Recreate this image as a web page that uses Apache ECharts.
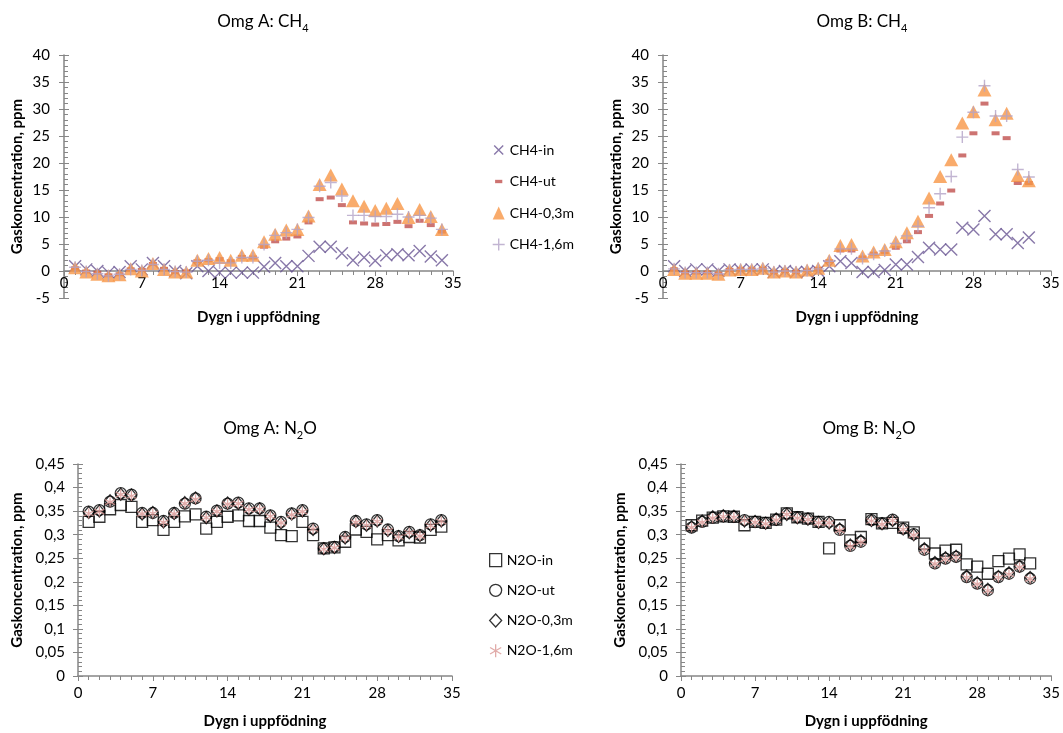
<!DOCTYPE html>
<html>
<head>
<meta charset="utf-8">
<script src="https://cdn.jsdelivr.net/npm/echarts@6/dist/echarts.min.js"></script>
<style>
html,body{margin:0;padding:0;background:#fff;}
#chart{width:1063px;height:733px;}
</style>
</head>
<body>
<div id="chart"></div>
<script>
// dygn
var daysA = [1,2,3,4,5,6,7,8,9,10,11,12,13,14,15,16,17,18,19,20,21,22,23,24,25,26,27,28,29,30,31,32,33,34];
var daysB = [1,2,3,4,5,6,7,8,9,10,11,12,13,14,15,16,17,18,19,20,21,22,23,24,25,26,27,28,29,30,31,32,33];

// Omg A: CH4
var ch4A_in  = [0.9,0.3,0,-0.3,-0.2,0.9,0.3,1.5,0.9,0,-0.4,0.9,0,-0.3,-0.3,-0.3,-0.3,0.8,1.5,0.9,0.9,2.8,4.5,4.5,3.3,2.0,2.5,1.9,2.9,3.1,2.9,3.7,2.7,2.0];
var ch4A_ut  = [0.5,-0.1,-0.3,-0.8,-0.6,0.3,0.2,1.3,0.4,-0.2,-0.1,1.8,2.0,2.2,1.8,2.6,2.5,4.5,5.5,6.0,6.4,9.0,13.3,13.6,12.2,9.0,8.8,8.6,8.7,9.1,8.3,9.3,8.5,7.3];
var ch4A_03  = [0.6,-0.2,-0.6,-0.9,-0.7,0.4,0,1.4,0.3,-0.2,-0.2,2.0,2.3,2.5,2.0,2.9,2.9,5.4,6.8,7.6,7.7,10.2,16.0,17.8,15.2,13.0,12.0,11.2,11.6,12.5,9.9,11.4,10.1,7.7];
var ch4A_16  = [0.7,-0.1,-0.5,-0.9,-0.6,0.3,0.1,1.2,0.3,-0.1,-0.2,1.8,2.0,1.5,1.5,2.5,2.5,4.9,6.6,7.1,7.7,9.9,15.7,16.4,13.9,10.3,10.3,10.1,10.1,10.5,10.0,10.3,9.8,7.7];

// Omg B: CH4
var ch4B_in  = [0.9,0,0.3,0.3,0,0.3,0.2,0.3,0.3,-0.2,0,-0.2,-0.2,0,0.9,1.8,1.5,-0.2,-0.2,0.2,1.2,1.2,2.6,4.3,4.0,4.0,8.0,7.7,10.2,6.8,6.8,5.2,6.2];
var ch4B_ut  = [0.3,-0.3,-0.3,-0.3,-0.5,0.2,0.3,0.3,0.4,-0.2,0,-0.2,0.1,0.4,1.8,3.8,3.8,2.5,3.2,3.5,4.3,5.5,7.2,10.2,12.5,14.9,21.4,25.5,31.0,25.5,24.6,16.3,16.3];
var ch4B_03  = [0.3,-0.4,-0.4,-0.4,-0.6,0.2,0.3,0.3,0.5,-0.2,0,-0.2,0.2,0.5,2.0,4.7,4.9,2.8,3.5,4.0,5.4,7.1,9.2,13.5,17.5,20.6,27.4,29.5,33.5,28.0,29.2,17.7,16.7];
var ch4B_16  = [0.4,-0.3,-0.3,-0.3,-0.5,0.2,0.3,0.3,0.4,-0.2,0,-0.2,0.1,0.4,1.8,4.1,4.1,2.3,3.1,3.7,5.1,6.5,8.3,11.7,14.3,17.5,24.8,29.4,34.3,28.7,28.7,18.8,17.4];

// Omg A: N2O
var n2oA_in  = [0.327,0.338,0.354,0.363,0.359,0.327,0.331,0.310,0.327,0.339,0.343,0.313,0.327,0.338,0.341,0.329,0.329,0.315,0.299,0.297,0.327,0.299,0.271,0.273,0.285,0.311,0.306,0.290,0.299,0.288,0.295,0.294,0.310,0.317];
var n2oA_ut  = [0.349,0.352,0.370,0.388,0.385,0.346,0.346,0.329,0.346,0.366,0.377,0.338,0.351,0.366,0.368,0.356,0.356,0.341,0.327,0.345,0.352,0.313,0.271,0.274,0.295,0.329,0.322,0.331,0.311,0.297,0.306,0.299,0.322,0.331];
var n2oA_03  = [0.347,0.350,0.372,0.386,0.384,0.344,0.347,0.327,0.345,0.368,0.378,0.336,0.350,0.367,0.366,0.354,0.355,0.339,0.325,0.344,0.350,0.311,0.270,0.273,0.293,0.328,0.320,0.329,0.309,0.296,0.304,0.298,0.320,0.329];
var n2oA_16  = [0.345,0.349,0.369,0.385,0.382,0.344,0.345,0.326,0.344,0.366,0.375,0.336,0.349,0.365,0.366,0.353,0.354,0.339,0.325,0.342,0.349,0.312,0.269,0.272,0.293,0.326,0.320,0.328,0.308,0.295,0.304,0.297,0.319,0.328];

// Omg B: N2O
var n2oB_in  = [0.320,0.330,0.336,0.339,0.338,0.320,0.327,0.325,0.332,0.345,0.337,0.334,0.327,0.271,0.320,0.288,0.295,0.333,0.324,0.325,0.315,0.305,0.281,0.260,0.266,0.268,0.237,0.232,0.217,0.244,0.249,0.258,0.239];
var n2oB_ut  = [0.315,0.327,0.336,0.339,0.338,0.331,0.327,0.325,0.332,0.345,0.337,0.334,0.327,0.327,0.310,0.276,0.285,0.331,0.324,0.332,0.313,0.301,0.268,0.239,0.249,0.253,0.210,0.196,0.182,0.210,0.217,0.232,0.207];
var n2oB_03  = [0.317,0.329,0.338,0.340,0.339,0.329,0.328,0.324,0.333,0.343,0.336,0.333,0.326,0.325,0.312,0.278,0.287,0.330,0.323,0.330,0.312,0.300,0.270,0.241,0.251,0.254,0.212,0.198,0.184,0.211,0.219,0.233,0.209];
var n2oB_16  = [0.315,0.326,0.335,0.338,0.337,0.330,0.326,0.323,0.331,0.343,0.335,0.332,0.325,0.325,0.309,0.275,0.284,0.329,0.322,0.330,0.311,0.299,0.267,0.238,0.248,0.252,0.209,0.195,0.181,0.209,0.216,0.231,0.206];

var FONT = 'Lato, "Liberation Sans", sans-serif';
var AXIS = '#868686';
var C_IN = '#6a5694', C_UT = '#c0504d', C_03 = '#f79646', C_16 = '#b3a2c7', C_STAR = '#d99694';
var SYM_X = 'path://M0,0L10,10M10,0L0,10';
var SYM_PLUS = 'path://M5,0L5,10M0,5L10,5';
var SYM_STAR = 'path://M5,0L5,10M0.7,2.5L9.3,7.5M9.3,2.5L0.7,7.5';
// kort streck i ett tomt 10x10-fält, för legendens ikon
var ICON_DASH = 'path://M0,0M10,10M2,3.6L8,3.6L8,6.4L2,6.4Z';
var ICON_X = 'path://M0,0M12,12M1.5,1.5L10.5,10.5M10.5,1.5L1.5,10.5';

function pairs(xs, ys) {
	return ys.map(function(v, i){ return [xs[i], v]; });
}
function comma(v) {
	return (+(+v).toFixed(2)).toString().replace('.', ',');
}

var grids = [
	{left:64, top:55, width:389, height:243},
	{left:663, top:55, width:388, height:243},
	{left:78, top:464, width:374, height:212},
	{left:681, top:464, width:373, height:212}
];

// x-axeln ligger vid y=0; i CH4-diagrammen (-5..40) är det 27 px ovanför gridens underkant
function xAxisFor(g, shift, gap, margin) {
	return {
		gridIndex:g, type:'value', min:0, max:35, interval:7, offset:shift,
		axisLine:{show:true, onZero:false, lineStyle:{color:AXIS, width:1.5}},
		axisTick:{show:true, length:5, lineStyle:{color:AXIS}},
		minorTick:{show:true, splitNumber:7, length:4, lineStyle:{color:AXIS}},
		splitLine:{show:false},
		axisLabel:{color:'#000', fontSize:15, fontFamily:FONT, margin:margin},
		name:'Dygn i uppfödning', nameLocation:'middle', nameGap:gap,
		nameTextStyle:{color:'#000', fontSize:15, fontWeight:'bold', fontFamily:FONT}
	};
}
function yAxesFor(g, min, max, interval, gap, margin, fmt) {
	return [{
		gridIndex:g, type:'value', position:'left', min:min, max:max, interval:interval,
		axisLine:{show:true, onZero:false, lineStyle:{color:AXIS, width:1.5}},
		axisTick:{show:true, length:5, lineStyle:{color:AXIS}},
		splitLine:{show:false},
		axisLabel:{color:'#000', fontSize:15, fontFamily:FONT, margin:margin, formatter:fmt},
		name:'Gaskoncentration, ppm', nameLocation:'middle', nameGap:gap, nameRotate:90,
		nameTextStyle:{color:'#000', fontSize:15, fontWeight:'bold', fontFamily:FONT}
	},{
		gridIndex:g, type:'value', position:'left', min:min, max:max, interval:interval,
		axisLine:{show:false, onZero:false},
		axisTick:{show:true, inside:true, length:5, lineStyle:{color:AXIS}},
		minorTick:{show:true, splitNumber:5, length:4, lineStyle:{color:AXIS}},
		splitLine:{show:false}, axisLabel:{show:false}
	}];
}

function titleFor(text, sub, tail, x, y) {
	return {
		text:'{a|' + text + '}{s|' + sub + '}' + (tail ? '{a|' + tail + '}' : ''),
		left:x, top:y, textAlign:'center',
		textStyle:{
			fontWeight:'normal',
			rich:{
				a:{fontSize:17, fontWeight:'normal', color:'#000', fontFamily:FONT, lineHeight:21, verticalAlign:'top'},
				s:{fontSize:11, fontWeight:'normal', color:'#000', fontFamily:FONT, lineHeight:21, verticalAlign:'bottom'}
			}
		}
	};
}

function ch4Series(xi, yi, xs, a, b, c, d) {
	return [
		{name:'CH4-in', type:'scatter', xAxisIndex:xi, yAxisIndex:yi, data:pairs(xs, a), symbol:SYM_X, symbolSize:12,
			itemStyle:{color:'rgba(0,0,0,0)', borderColor:C_IN, borderWidth:1.4}},
		{name:'CH4-ut', type:'scatter', xAxisIndex:xi, yAxisIndex:yi, data:pairs(xs, b), symbol:'rect', symbolSize:[8,4],
			itemStyle:{color:C_UT}},
		{name:'CH4-0,3m', type:'scatter', xAxisIndex:xi, yAxisIndex:yi, data:pairs(xs, c), symbol:'triangle', symbolSize:[14,13],
			itemStyle:{color:C_03}},
		{name:'CH4-1,6m', type:'scatter', xAxisIndex:xi, yAxisIndex:yi, data:pairs(xs, d), symbol:SYM_PLUS, symbolSize:12,
			itemStyle:{color:'rgba(0,0,0,0)', borderColor:C_16, borderWidth:1.4}}
	];
}
function n2oSeries(xi, yi, xs, a, b, c, d) {
	return [
		{name:'N2O-in', type:'scatter', xAxisIndex:xi, yAxisIndex:yi, data:pairs(xs, a), symbol:'rect', symbolSize:11,
			itemStyle:{color:'rgba(0,0,0,0)', borderColor:'#000', borderWidth:1.3}},
		{name:'N2O-ut', type:'scatter', xAxisIndex:xi, yAxisIndex:yi, data:pairs(xs, b), symbol:'circle', symbolSize:11,
			itemStyle:{color:'rgba(0,0,0,0)', borderColor:'#000', borderWidth:1.3}},
		{name:'N2O-0,3m', type:'scatter', xAxisIndex:xi, yAxisIndex:yi, data:pairs(xs, c), symbol:'diamond', symbolSize:[10,12],
			itemStyle:{color:'rgba(0,0,0,0)', borderColor:'#000', borderWidth:1.3}},
		{name:'N2O-1,6m', type:'scatter', xAxisIndex:xi, yAxisIndex:yi, data:pairs(xs, d), symbol:SYM_STAR, symbolSize:10,
			itemStyle:{color:'rgba(0,0,0,0)', borderColor:C_STAR, borderWidth:1.3}}
	];
}

var legendText = {color:'#000', fontSize:14, fontFamily:FONT};

var chart = echarts.init(document.getElementById('chart'), null, {renderer:'canvas'});
var option = {
	backgroundColor:'#fff',
	animation:false,
	title:[
		titleFor('Omg A: CH', '4', '', 258, 8),
		titleFor('Omg B: CH', '4', '', 857, 8),
		titleFor('Omg A: N', '2', 'O', 265, 415),
		titleFor('Omg B: N', '2', 'O', 864, 415)
	],
	legend:[{
		orient:'vertical', left:487, top:138, itemGap:17.5, itemWidth:12, itemHeight:13,
		textStyle:legendText, selectedMode:false,
		data:[
			{name:'CH4-in', icon:ICON_X, itemStyle:{color:'rgba(0,0,0,0)', borderColor:C_IN, borderWidth:1.4}},
			{name:'CH4-ut', icon:ICON_DASH, itemStyle:{color:C_UT, borderWidth:0}},
			{name:'CH4-0,3m', icon:'triangle', itemStyle:{color:C_03, borderWidth:0}},
			{name:'CH4-1,6m', icon:SYM_PLUS, itemStyle:{color:'rgba(0,0,0,0)', borderColor:C_16, borderWidth:1.4}}
		]
	},{
		orient:'vertical', left:484, top:548, itemGap:16, itemWidth:12, itemHeight:13,
		textStyle:legendText, selectedMode:false,
		data:[
			{name:'N2O-in', icon:'rect', itemStyle:{color:'rgba(0,0,0,0)', borderColor:'#000', borderWidth:1.3}},
			{name:'N2O-ut', icon:'circle', itemStyle:{color:'rgba(0,0,0,0)', borderColor:'#000', borderWidth:1.3}},
			{name:'N2O-0,3m', icon:'diamond', itemStyle:{color:'rgba(0,0,0,0)', borderColor:'#000', borderWidth:1.3}},
			{name:'N2O-1,6m', icon:SYM_STAR, itemStyle:{color:'rgba(0,0,0,0)', borderColor:C_STAR, borderWidth:1.3}}
		]
	}],
	grid:grids,
	xAxis:[
		xAxisFor(0, -27, 39, 5),
		xAxisFor(1, -27, 39, 5),
		xAxisFor(2, 0, 38, 10),
		xAxisFor(3, 0, 38, 10)
	],
	yAxis: [].concat(
		yAxesFor(0, -5, 40, 5, 39, 14, null),
		yAxesFor(1, -5, 40, 5, 39, 14, null),
		yAxesFor(2, 0, 0.45, 0.05, 53, 13, comma),
		yAxesFor(3, 0, 0.45, 0.05, 53, 13, comma)
	),
	series: [].concat(
		ch4Series(0, 0, daysA, ch4A_in, ch4A_ut, ch4A_03, ch4A_16),
		ch4Series(1, 2, daysB, ch4B_in, ch4B_ut, ch4B_03, ch4B_16),
		n2oSeries(2, 4, daysA, n2oA_in, n2oA_ut, n2oA_03, n2oA_16),
		n2oSeries(3, 6, daysB, n2oB_in, n2oB_ut, n2oB_03, n2oB_16)
	)
};
chart.setOption(option);
</script>
</body>
</html>
